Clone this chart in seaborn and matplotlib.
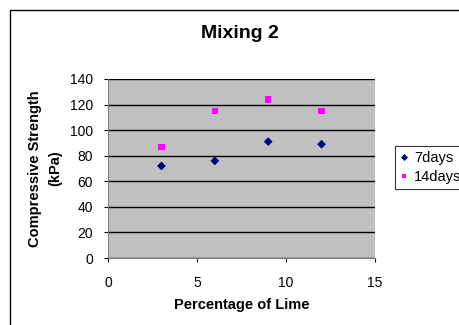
import pandas as pd
import matplotlib.pyplot as plt
import seaborn as sns
from matplotlib.patches import Rectangle

# Data
lime = [3, 6, 9, 12]
days7 = [72, 76, 91, 89]
days14 = [87, 115, 124, 115]

df = pd.DataFrame({
    'Percentage of Lime': lime * 2,
    'Compressive Strength (kPa)': days7 + days14,
    'Series': ['7days'] * 4 + ['14days'] * 4,
})

sns.set_style('white')
plt.rcParams['font.family'] = ['Liberation Sans', 'DejaVu Sans']
plt.rcParams['text.color'] = 'black'
plt.rcParams['axes.labelcolor'] = 'black'
plt.rcParams['xtick.color'] = 'black'
plt.rcParams['ytick.color'] = 'black'

fig = plt.figure(figsize=(4.6, 3.25), dpi=100)
fig.patches.append(Rectangle((10 / 460, -0.05), 1.0, 1 - 10 / 325 + 0.05,
                             transform=fig.transFigure, fill=False,
                             edgecolor='black', linewidth=1.0))
ax = fig.add_axes([0.235, 0.206, 0.58, 0.551])
ax.set_facecolor('#C0C0C0')

sns.scatterplot(data=df, x='Percentage of Lime', y='Compressive Strength (kPa)',
                hue='Series', style='Series',
                palette={'7days': '#000080', '14days': '#FF00FF'},
                markers={'7days': 'D', '14days': 's'},
                s=20, edgecolor=None, linewidth=0, ax=ax)

ax.set_xlim(0, 15)
ax.set_ylim(0, 140)
ax.set_xticks([0, 5, 10, 15])
ax.set_yticks(range(0, 141, 20))
ax.yaxis.grid(True, color='black', linewidth=1.0)
ax.set_axisbelow(True)
for side in ['left', 'bottom']:
    ax.spines[side].set_color('#808080')
for side in ['top', 'right']:
    ax.spines[side].set_visible(False)
ax.tick_params(axis='both', which='both', direction='out', length=3,
               labelsize=10, left=True, bottom=True)
ax.tick_params(axis='x', pad=10)
ax.tick_params(axis='y', pad=8)

fig.text(240 / 460, 1 - 33 / 325, 'Mixing 2', fontsize=14, fontweight='bold',
         ha='center', va='center')
ax.set_xlabel('Percentage of Lime', fontsize=10.5, fontweight='bold', labelpad=6)
ax.set_ylabel('Compressive Strength\n(kPa)', fontsize=10.5, fontweight='bold',
              labelpad=5, linespacing=1.6)

leg = ax.legend(loc='center left', bbox_to_anchor=(1.075, 0.506), borderaxespad=0,
                frameon=True, fancybox=False, edgecolor='black', fontsize=10.5,
                handletextpad=0.35, borderpad=0.35, handlelength=0.6,
                labelspacing=0.3, markerscale=0.8)
leg.get_frame().set_linewidth(0.8)

fig.savefig('out.png', dpi=100)
